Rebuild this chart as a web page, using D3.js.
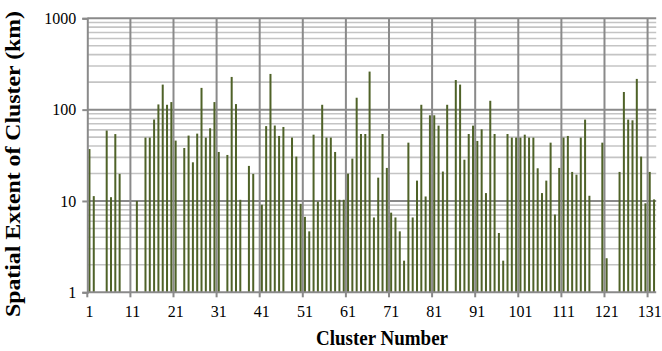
<!DOCTYPE html>
<html>
<head>
<meta charset="utf-8">
<script src="https://cdn.jsdelivr.net/npm/d3@7"></script>
<style>
  html, body { margin: 0; padding: 0; background: #fff; }
  svg { display: block; }
  svg text { font-family: "Liberation Serif", "Times New Roman", serif !important; fill: #000; }
</style>
</head>
<body>
<svg id="chart" width="662" height="351"></svg>
<script>
// Spatial extent (km) of each cluster, clusters 1..132; null = no cluster extent recorded
const clusterIds = d3.range(1, 133);
const extentKm = [
  37, 11.3, null, null, 59, 11, 54, 19.8, null, null,
  null, 10, null, 49.4, 49.4, 78, 114, 188, 113, 121,
  45.8, null, 38, 52, 26.5, 54.6, 173, 49.4, 62.5, 121,
  34.4, null, 31.9, 228, 115, 10.3, null, 24.2, 19.8, null,
  9.1, 66, 246, 67, 51.5, 64.6, null, 49.4, 30.6, 9.3,
  6.7, 4.65, 53.2, 9.84, 113, 49.4, 49.4, 34.4, 10.3, 10.3,
  19.9, 29.1, 135, 54.1, 54.1, 261, 6.6, 18, 54.1, 23,
  7.45, 6.6, 4.65, 2.22, 43.5, 6.6, 16.7, 113, 11.2, 86.7,
  86.7, 66.8, 21, 113, null, 211, 188, 28.3, 54.1, 66.8,
  45.4, 60.9, 12.2, 125, 54.1, 4.46, 2.22, 54.1, 49.4, 49.4,
  49.4, 53.2, 49.4, 49.4, 22.8, 12.2, 16.7, 43.5, 7.1, 23,
  49.4, 51.5, 20.8, 19.4, 49.4, 77.8, 11.4, null, null, 43.5,
  2.36, null, null, 20.8, 156, 77.8, 76.4, 217, 30.6, 9.43,
  20.8, 10.4
];
const xTickLabels = [1, 11, 21, 31, 41, 51, 61, 71, 81, 91, 101, 111, 121, 131];
const yTickLabels = [1, 10, 100, 1000];
const xTitle = "Cluster Number";
const yTitle = "Spatial Extent of Cluster (km)";

const svg = d3.select("#chart");
const plotLeft = 87.3, plotRight = 656.2, plotTop = 18.3, plotBottom = 292.3;

const x = d3.scaleBand().domain(clusterIds).range([plotLeft, plotRight]).paddingInner(0).paddingOuter(0);
const y = d3.scaleLog().domain([1, 1000]).range([plotBottom, plotTop]);

// minor gridlines (2..9 in every decade)
const minor = [];
for (let dec = 1; dec < 1000; dec *= 10) {
  for (let k = 2; k <= 9; k++) minor.push(dec * k);
}
svg.append("g").selectAll("line").data(minor).join("line")
  .attr("x1", plotLeft).attr("x2", plotRight)
  .attr("y1", d => y(d)).attr("y2", d => y(d))
  .attr("stroke", "#c4c4c4").attr("stroke-width", 1.6);

// major gridlines
svg.append("g").selectAll("line").data(yTickLabels.slice(1)).join("line")
  .attr("x1", plotLeft).attr("x2", plotRight)
  .attr("y1", d => y(d)).attr("y2", d => y(d))
  .attr("stroke", "#8a8a8a").attr("stroke-width", 2);

// vertical gridlines at every tenth cluster
svg.append("g").selectAll("line").data(xTickLabels.slice(1)).join("line")
  .attr("x1", d => x(d)).attr("x2", d => x(d))
  .attr("y1", plotTop).attr("y2", plotBottom)
  .attr("stroke", "#8a8a8a").attr("stroke-width", 2);

// bars
const barW = 2;
svg.append("g").selectAll("rect")
  .data(clusterIds.map((id, i) => ({ id, v: extentKm[i] })).filter(d => d.v != null))
  .join("rect")
  .attr("x", d => x(d.id) + x.bandwidth() / 2 - barW / 2)
  .attr("width", barW)
  .attr("y", d => y(d.v))
  .attr("height", d => y(1) - y(d.v))
  .attr("fill", "#4f6228");

// y axis
const yAxis = d3.axisLeft(y).tickValues(yTickLabels).tickFormat(d3.format("d")).tickSize(5).tickPadding(6);
const gy = svg.append("g").attr("transform", `translate(${plotLeft},0)`).call(yAxis)
  .attr("font-family", null).attr("font-size", null);
gy.select(".domain").attr("stroke", "#8a8a8a").attr("stroke-width", 2);
gy.selectAll(".tick line").attr("stroke", "#8a8a8a").attr("stroke-width", 2);
gy.selectAll(".tick text").attr("font-size", 16).attr("fill", "#000")
  .style("font-family", "'Liberation Serif', serif");

// x axis: ticks at category boundaries, labels at category centres
const gx = svg.append("g").attr("transform", `translate(0,${plotBottom})`);
gx.append("line").attr("x1", plotLeft).attr("x2", plotRight).attr("y1", 0).attr("y2", 0)
  .attr("stroke", "#8a8a8a").attr("stroke-width", 2);
gx.selectAll(".tk").data(xTickLabels).join("line").attr("class", "tk")
  .attr("x1", d => x(d)).attr("x2", d => x(d)).attr("y1", 0).attr("y2", 5)
  .attr("stroke", "#8a8a8a").attr("stroke-width", 2);
gx.selectAll("text").data(xTickLabels).join("text")
  .attr("x", d => x(d) + x.bandwidth() / 2)
  .attr("y", 25)
  .attr("text-anchor", "middle")
  .attr("font-size", 16)
  .style("font-family", "'Liberation Serif', serif")
  .text(d => d);

// axis titles
svg.append("text")
  .attr("x", 382).attr("y", 345)
  .attr("text-anchor", "middle")
  .attr("font-size", 20).attr("font-weight", "bold")
  .attr("textLength", 132).attr("lengthAdjust", "spacingAndGlyphs")
  .text(xTitle);
svg.append("text")
  .attr("transform", "translate(20,164) rotate(-90)")
  .attr("text-anchor", "middle")
  .attr("font-size", 21).attr("font-weight", "bold")
  .attr("textLength", 306).attr("lengthAdjust", "spacingAndGlyphs")
  .text(yTitle);
</script>
</body>
</html>
